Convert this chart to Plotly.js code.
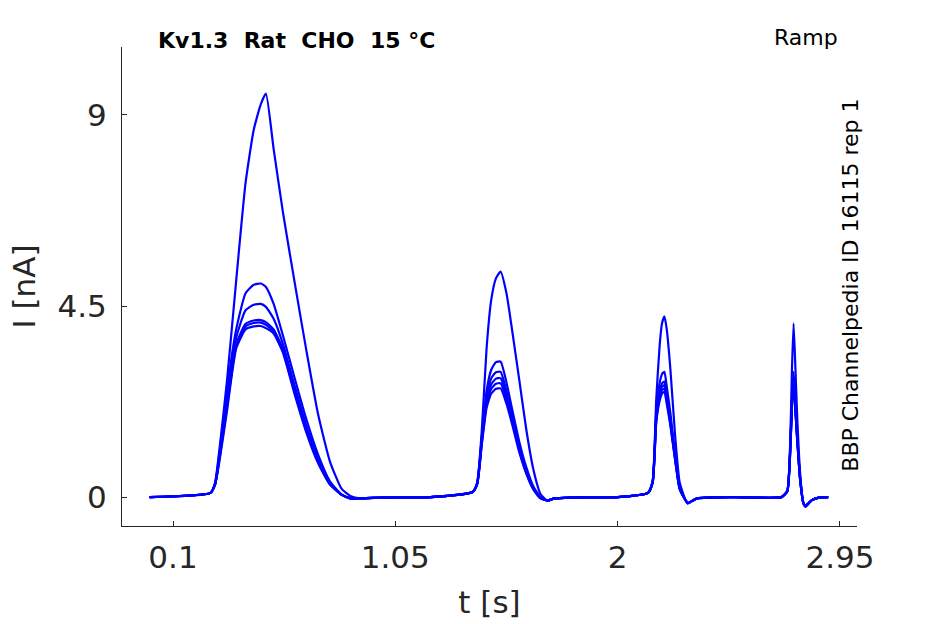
<!DOCTYPE html>
<html>
<head>
<meta charset="utf-8">
<script src="https://cdn.plot.ly/plotly-3.0.1.min.js"></script>
<style>
  html, body { margin: 0; padding: 0; background: #fff; }
  #ramp_plot { width: 945px; height: 624px; }
</style>
</head>
<body>
<div id="ramp_plot"></div>
<script>
// sample times [s], shared by all sweeps
const t = [0.00, 0.26, 0.28, 0.30, 0.33, 0.37, 0.41, 0.445, 0.475, 0.497,
           0.53, 0.57, 0.62, 0.67, 0.72, 0.77, 0.82, 0.86, 0.90, 1.00,
           1.20, 1.38, 1.40, 1.42, 1.44, 1.46, 1.48, 1.50, 1.525, 1.55,
           1.58, 1.61, 1.64, 1.67, 1.70, 1.73, 1.80, 2.00, 2.13, 2.15,
           2.165, 2.18, 2.19, 2.20, 2.21, 2.225, 2.245, 2.265, 2.29, 2.30,
           2.34, 2.50, 2.70, 2.725, 2.737, 2.745, 2.752, 2.76, 2.767, 2.78,
           2.794, 2.803, 2.83, 2.86, 2.90];

// current [nA] per sweep
const sweep1 = [0.00, 0.10, 0.35, 1.20, 2.70, 5.10, 7.40, 8.65, 9.25, 9.50,
                8.20, 6.70, 5.05, 3.45, 1.95, 0.85, 0.20, 0.02, -0.03, -0.01,
                0.00, 0.12, 0.35, 1.60, 3.50, 4.65, 5.15, 5.31, 4.80, 3.90,
                2.75, 1.58, 0.65, 0.08, -0.09, -0.03, -0.01, 0.00, 0.10, 0.40,
                2.30, 3.60, 4.10, 4.26, 3.95, 3.05, 1.50, 0.35, -0.07, -0.15,
                -0.03, 0.00, 0.00, 0.15, 1.20, 3.00, 4.09, 3.00, 1.95, 0.56,
                -0.15, -0.23, -0.07, -0.01, 0.00];
const sweep2 = [0.00, 0.10, 0.32, 1.10, 2.50, 3.95, 4.80, 5.00, 5.03, 4.95,
                4.55, 3.80, 2.80, 1.83, 1.00, 0.38, 0.06, -0.04, -0.03, -0.01,
                0.00, 0.12, 0.33, 1.45, 2.50, 3.00, 3.18, 3.19, 2.70, 2.05,
                1.30, 0.70, 0.25, 0.00, -0.08, -0.03, -0.01, 0.00, 0.10, 0.38,
                2.00, 2.70, 2.90, 2.95, 2.60, 2.00, 1.05, 0.25, -0.07, -0.15,
                -0.03, 0.00, 0.00, 0.15, 1.10, 2.30, 2.95, 2.20, 1.50, 0.45,
                -0.15, -0.22, -0.07, -0.01, 0.00];
const sweep3 = [0.00, 0.10, 0.31, 1.05, 2.30, 3.75, 4.40, 4.53, 4.55, 4.48,
                4.20, 3.60, 2.62, 1.68, 0.90, 0.34, 0.06, -0.03, -0.03, -0.01,
                0.00, 0.12, 0.32, 1.40, 2.35, 2.80, 2.94, 2.95, 2.50, 1.90,
                1.20, 0.62, 0.22, -0.01, -0.08, -0.03, -0.01, 0.00, 0.10, 0.37,
                1.90, 2.50, 2.68, 2.72, 2.40, 1.85, 0.98, 0.22, -0.07, -0.14,
                -0.03, 0.00, 0.00, 0.14, 1.05, 2.25, 2.85, 2.10, 1.45, 0.43,
                -0.14, -0.21, -0.07, -0.01, 0.00];
const sweep4 = [0.00, 0.10, 0.30, 1.00, 2.15, 3.60, 4.08, 4.16, 4.17, 4.12,
                3.95, 3.48, 2.52, 1.60, 0.85, 0.32, 0.06, -0.03, -0.03, -0.01,
                0.00, 0.12, 0.32, 1.35, 2.25, 2.66, 2.79, 2.80, 2.40, 1.82,
                1.15, 0.60, 0.20, -0.02, -0.08, -0.03, -0.01, 0.00, 0.10, 0.36,
                1.85, 2.42, 2.60, 2.64, 2.33, 1.80, 0.95, 0.21, -0.07, -0.14,
                -0.03, 0.00, 0.00, 0.14, 1.02, 2.20, 2.80, 2.05, 1.42, 0.42,
                -0.14, -0.21, -0.07, -0.01, 0.00];
const sweep5 = [0.00, 0.10, 0.30, 0.95, 2.10, 3.55, 4.02, 4.10, 4.11, 4.06,
                3.90, 3.44, 2.47, 1.56, 0.82, 0.31, 0.06, -0.03, -0.03, -0.01,
                0.00, 0.12, 0.31, 1.30, 2.18, 2.55, 2.67, 2.68, 2.30, 1.76,
                1.10, 0.57, 0.19, -0.02, -0.08, -0.03, -0.01, 0.00, 0.10, 0.35,
                1.80, 2.35, 2.52, 2.56, 2.27, 1.75, 0.92, 0.20, -0.07, -0.14,
                -0.03, 0.00, 0.00, 0.13, 1.00, 2.15, 2.75, 2.02, 1.40, 0.41,
                -0.14, -0.20, -0.07, -0.01, 0.00];
const sweep6 = [0.00, 0.10, 0.30, 0.90, 2.00, 3.50, 3.95, 4.02, 4.03, 3.98,
                3.85, 3.40, 2.42, 1.52, 0.80, 0.30, 0.06, -0.03, -0.03, -0.01,
                0.00, 0.12, 0.30, 1.25, 2.10, 2.44, 2.55, 2.56, 2.20, 1.70,
                1.05, 0.55, 0.18, -0.03, -0.08, -0.03, -0.01, 0.00, 0.10, 0.34,
                1.75, 2.28, 2.44, 2.48, 2.20, 1.70, 0.90, 0.19, -0.07, -0.13,
                -0.03, 0.00, 0.00, 0.13, 0.98, 2.10, 2.70, 2.00, 1.38, 0.40,
                -0.13, -0.20, -0.07, -0.01, 0.00];

const sweeps = [sweep1, sweep2, sweep3, sweep4, sweep5, sweep6];

const xTicks = [0.1, 1.05, 2, 2.95];
const xTickText = ['0.1', '1.05', '2', '2.95'];
const yTicks = [0, 4.5, 9];
const yTickText = ['0', '4.5', '9'];

const titleText = '<b>Kv1.3  Rat  CHO  15 °C</b>';
const protocolText = 'Ramp';
const sourceText = 'BBP Channelpedia ID 16115 rep 1';

const traces = sweeps.map(s => ({
    type: 'scatter',
    mode: 'lines',
    x: t,
    y: s,
    line: { color: '#0000ff', width: 2.2, shape: 'spline', smoothing: 0.5 },
    hoverinfo: 'none'
}));

const axisFont = { family: 'DejaVu Sans, sans-serif', size: 31, color: '#262626' };

const layout = {
    width: 945,
    height: 624,
    margin: { l: 122, r: 88, t: 47, b: 98 },
    showlegend: false,
    paper_bgcolor: '#ffffff',
    plot_bgcolor: '#ffffff',
    xaxis: {
        range: [-0.118, 3.023],
        tickvals: xTicks,
        ticktext: xTickText,
        ticks: 'inside',
        ticklen: 5,
        tickcolor: '#262626',
        showline: true,
        linecolor: '#262626',
        linewidth: 1,
        showgrid: false,
        zeroline: false,
        tickfont: axisFont,
        ticklabelstandoff: 4,
        title: { text: 't [s]', font: axisFont, standoff: 17 }
    },
    yaxis: {
        range: [-0.68, 10.6],
        tickvals: yTicks,
        ticktext: yTickText,
        ticks: 'inside',
        ticklen: 5,
        tickcolor: '#262626',
        showline: true,
        linecolor: '#262626',
        linewidth: 1,
        showgrid: false,
        zeroline: false,
        tickfont: axisFont,
        ticklabelstandoff: 8,
        title: { text: 'I [nA]', font: axisFont, standoff: 12 }
    },
    annotations: [
        {
            text: titleText, xref: 'paper', yref: 'paper',
            x: 0.046, y: 1.0146, xanchor: 'left', yanchor: 'middle',
            showarrow: false,
            font: { family: 'DejaVu Sans, sans-serif', size: 22, color: '#000' }
        },
        {
            text: protocolText, xref: 'paper', yref: 'paper',
            x: 0.977, y: 1.019, xanchor: 'right', yanchor: 'middle',
            showarrow: false,
            font: { family: 'DejaVu Sans, sans-serif', size: 22, color: '#000' }
        },
        {
            text: sourceText, xref: 'paper', yref: 'paper',
            x: 0.990, y: 0.503, xanchor: 'center', yanchor: 'middle',
            textangle: -90, showarrow: false,
            font: { family: 'DejaVu Sans, sans-serif', size: 22, color: '#000' }
        }
    ]
};

Plotly.newPlot('ramp_plot', traces, layout, { staticPlot: true, displayModeBar: false });
</script>
</body>
</html>
